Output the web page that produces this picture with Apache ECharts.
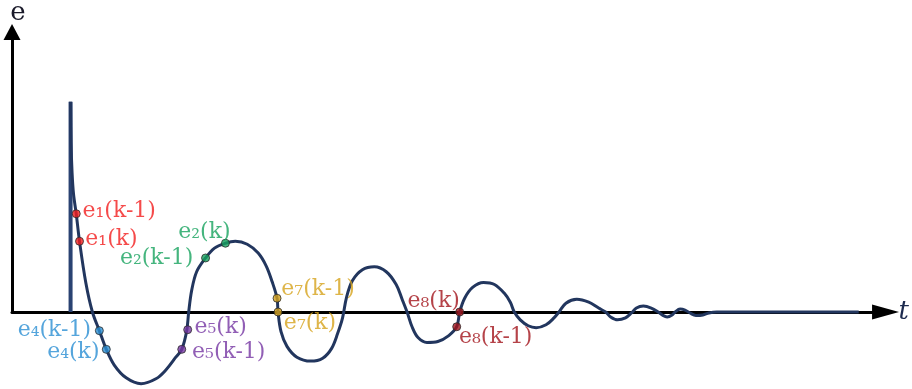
<!DOCTYPE html>
<html>
<head>
<meta charset="utf-8">
<script src="https://cdn.jsdelivr.net/npm/echarts@6/dist/echarts.min.js"></script>
<style>
  html, body { margin: 0; padding: 0; background: #fff; }
  #chart { width: 912px; height: 389px; }
</style>
</head>
<body>
<div id="chart"></div>
<script>
// damped error curve e(t) (t to the right, e up)
const curveT = [59, 59.5, 60.5, 62, 64.7, 68, 74.5, 81, 88, 95, 103, 115, 130, 145, 155, 165, 171, 176, 178,
  181, 186, 195, 204, 215, 225, 237, 248, 256, 262, 267, 268, 271, 277, 287, 301, 313, 322, 328, 333,
  337, 343, 353, 365, 377, 387, 393, 398, 403, 409, 418, 429, 440, 448, 451, 456, 464, 475, 486, 496,
  502, 506, 512, 520, 528, 538, 546, 551, 558, 569, 581, 591, 598, 603, 610, 618, 624, 629, 636, 644,
  651, 655, 660, 665, 668, 673, 678, 683, 689, 696, 702, 710, 853]
const curveE = [214, 172, 142, 120, 100, 72, 29, 0, -19, -38, -54, -67, -73, -68, -59, -46, -38, -19, 0,
  22, 41, 55, 65, 70, 72, 69, 60, 47, 31, 14, 0, -20, -35, -46, -50, -47, -37, -22, -6,
  15, 32, 43, 46, 41, 28, 13, 0, -15, -26, -31, -30, -24, -15, 0, 14, 25, 30, 28, 19,
  10, 0, -8, -14, -16, -13, -6, 0, 9, 13, 10, 4, 0, -5, -8, -6, -1, 4, 6, 4,
  0, -3, -5, -3, 0, 3, 2, -1, -3.5, -3, -1, 0, 0]

// initial spike
const spikeT = [59, 59]
const spikeE = [0, 214]

// sampled points on the curve
const markNames = ['e₁(k-1)', 'e₁(k)', 'e₂(k)', 'e₂(k-1)', 'e₄(k-1)', 'e₄(k)',
  'e₅(k)', 'e₅(k-1)', 'e₇(k-1)', 'e₇(k)', 'e₈(k)', 'e₈(k-1)']
const markT = [64.7, 68, 215, 195, 88, 95, 177, 171, 267, 268, 451, 448]
const markE = [100, 72, 70, 55, -19, -38, -18, -38, 14, 0, 0, -15]

// styling per mark
const markColors = ['#f21d1d', '#f21d1d', '#17a35e', '#17a35e', '#2b8fd3', '#2b8fd3',
  '#7536a3', '#7536a3', '#d6a21c', '#d6a21c', '#a3141c', '#a3141c']
const labelOffsets = [[43, -2], [32, -2], [-21, -11], [-49, 0], [-45, 0], [-33, 3],
  [33, -2], [47, 3], [41, -9], [32, 11], [-26, -11], [39, 11]]

const NAVY = '#22365e'
const chart = echarts.init(document.getElementById('chart'))

chart.setOption({
  animation: false,
  grid: { left: 12, right: 20, top: 27, bottom: 77 },
  xAxis: {
    type: 'value', min: 0, max: 880,
    name: 't', nameLocation: 'end', nameGap: 13,
    nameTextStyle: { fontFamily: 'DejaVu Serif', fontStyle: 'italic', fontSize: 26, color: '#1c2a4e', verticalAlign: 'middle' },
    axisLine: { lineStyle: { color: '#000', width: 3 }, symbol: ['none', 'triangle'], symbolSize: [15, 27] },
    axisTick: { show: false }, axisLabel: { show: false }, splitLine: { show: false }
  },
  yAxis: {
    type: 'value', min: 0, max: 285,
    name: 'e', nameLocation: 'end', nameGap: 6,
    nameTextStyle: { fontFamily: 'DejaVu Serif', fontSize: 26, color: '#1a1a2a', padding: [0, 0, 0, 12] },
    axisLine: { lineStyle: { color: '#000', width: 3 }, symbol: ['none', 'triangle'], symbolSize: [17, 16] },
    axisTick: { show: false }, axisLabel: { show: false }, splitLine: { show: false }
  },
  series: [
    {
      type: 'line',
      data: spikeT.map((t, i) => [t, spikeE[i]]),
      showSymbol: false, clip: false,
      lineStyle: { color: '#2a4272', width: 4 }
    },
    {
      type: 'line',
      data: curveT.map((t, i) => [t, curveE[i]]),
      showSymbol: false, clip: false, smooth: 0.35,
      lineStyle: { color: NAVY, width: 3 }
    },
    {
      type: 'scatter',
      clip: false,
      symbolSize: 8,
      data: markNames.map((n, i) => ({
        name: n,
        value: [markT[i], markE[i]],
        itemStyle: { color: markColors[i], borderColor: '#2b2b2b', borderWidth: 1 },
        label: {
          show: true,
          formatter: n,
          position: 'inside',
          align: 'center',
          verticalAlign: 'middle',
          offset: labelOffsets[i],
          color: markColors[i],
          fontFamily: 'DejaVu Serif',
          fontSize: 22
        }
      })),
      z: 5
    }
  ]
})
</script>
</body>
</html>
